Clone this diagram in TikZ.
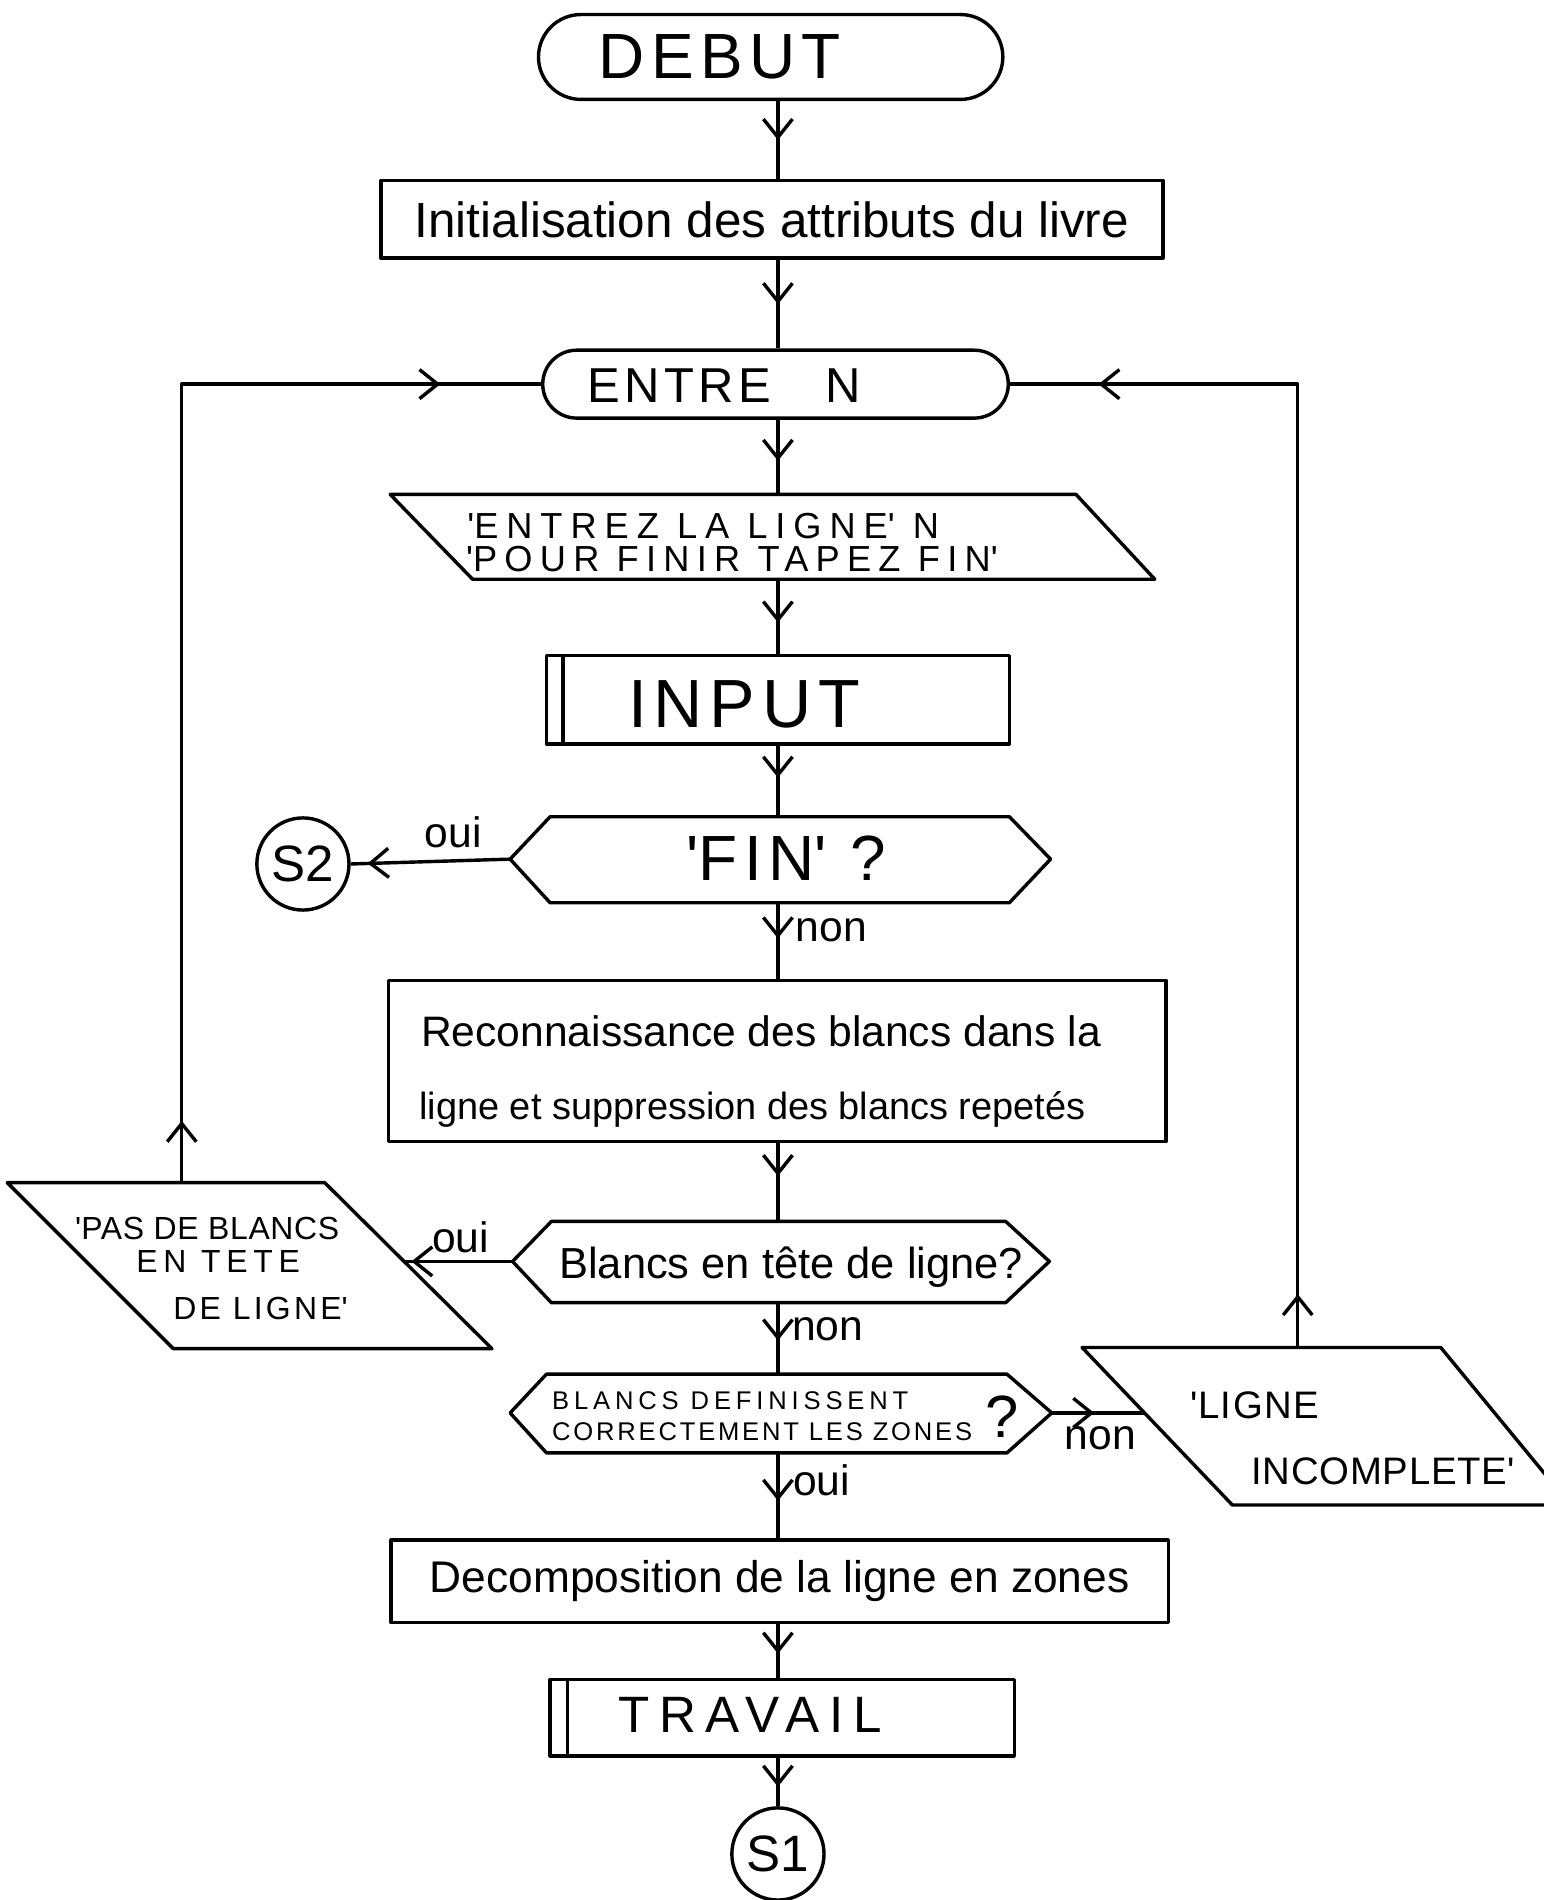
\documentclass[tikz,border=0pt]{standalone}
\usepackage{fontspec}
\setmainfont{Liberation Sans}
\usetikzlibrary{arrows.meta,decorations.markings,shapes.misc}

% size and tracking for lettering: \lsfont{letterspace}{size in pt}
\newcommand{\lsfont}[2]{\fontsize{#2}{#2}\selectfont\addfontfeatures{LetterSpace=#1}}
\newcommand{\tick}{\textquotesingle}

\tikzset{
  >={Straight Barb[length=1.5mm,width=2.4mm]},
  ink/.style={line width=0.8pt, line join=round},
  proc/.style={ink, draw, rectangle, inner sep=0pt},
  term/.style={ink, draw, rounded rectangle, inner sep=0pt},
  conn/.style={ink, draw, circle, inner sep=0pt, minimum size=0.76cm, font=\lsfont{0}{12}},
  txt/.style={inner sep=0pt, anchor=base},
  lbl/.style={inner sep=0pt, anchor=base, font=\lsfont{0}{10}},
  flow/.style={ink},
  tipat/.style={postaction={decorate}, decoration={markings, mark=at position #1 with {\arrow{>}}}},
  twotips/.style 2 args={postaction={decorate}, decoration={markings,
      mark=at position #1 with {\arrow{>}}, mark=at position #2 with {\arrow{>}}}},
}

\begin{document}
\begin{tikzpicture}[x=0.01cm, y=-0.01cm]
\useasboundingbox (0,0) rectangle (1274,1568);
\clip (0,0) rectangle (1274,1568);
\coordinate (col) at (642,0);

% ---- start
\node[term, minimum width=3.83cm, minimum height=0.70cm] (debut) at (636,47) {};
\node[txt, font=\lsfont{10}{15}] (debut-t) at (594,65) {DEBUT};

% ---- initialisation
\node[proc, minimum width=6.45cm, minimum height=0.64cm, font=\lsfont{0}{11.6}] (init) at (637,181)
  {Initialisation des attributs du livre};

% ---- loop entry
\node[term, minimum width=3.84cm, minimum height=0.56cm] (entre) at (640,317) {};
\node[txt, anchor=base west, font=\lsfont{9}{11.5}] (entre-t) at (484,332) {ENTRE\hspace{0.45cm}N};

% ---- prompt (output)
\draw[ink] (322,408) -- (888,408) -- (953,478) -- (390,478) -- cycle;
\coordinate (p1-n) at (642,408);
\coordinate (p1-s) at (642,478);
\node[txt, anchor=base west, font=\lsfont{22}{8.5}] (p1-a) at (385,444) {\tick ENTREZ LA LIGNE\tick\ N};
\node[txt, anchor=base west, font=\lsfont{20}{8.5}] (p1-b) at (384,472) {\tick POUR FINIR TAPEZ FIN\tick};

% ---- input subroutine
\node[proc, minimum width=3.82cm, minimum height=0.73cm] (input) at (642,577.5) {};
\draw[ink] ([xshift=0.15cm]input.north west) -- ([xshift=0.15cm]input.south west);
\node[txt, font=\lsfont{10}{16}] (input-t) at (614,600) {INPUT};

% ---- test 'FIN'
\draw[ink] (454,674) -- (833,674) -- (867,709) -- (833,745) -- (454,745) -- (421,709) -- cycle;
\coordinate (fin-n) at (642,674);
\coordinate (fin-s) at (642,745);
\coordinate (fin-w) at (421,709);
\node[txt, font=\lsfont{10}{15}] (fin-t) at (649,727) {\tick FIN\tick\ ?};

\node[conn] (s2) at (250,713) {S2};

% ---- blank detection
\node[proc, minimum width=6.41cm, minimum height=1.33cm] (recon) at (641.5,875.5) {};
\node[txt, font=\lsfont{0}{10}] (recon-a) at (628,864) {Reconnaissance des blancs dans la};
\node[txt, font=\lsfont{0}{8.9}] (recon-b) at (621,924) {ligne et suppression des blancs repetés};

% ---- leading blanks test
\draw[ink] (455,1008) -- (830,1008) -- (866,1041) -- (830,1075) -- (455,1075) -- (423,1041) -- cycle;
\coordinate (hb-n) at (642,1008);
\coordinate (hb-s) at (642,1075);
\coordinate (hb-w) at (423,1041);
\node[txt, font=\lsfont{0}{10.2}] (hb-t) at (653,1055) {Blancs en tête de ligne?};

% ---- message: leading blanks
\draw[ink] (6,976) -- (268,976) -- (406,1113) -- (143,1113) -- cycle;
\coordinate (pas-n) at (150,976);
\coordinate (pas-e) at (333.5,1041);
\node[txt, font=\lsfont{2}{7.5}] (pas-a) at (171,1023) {\tick PAS DE BLANCS};
\node[txt, font=\lsfont{18}{7.5}] (pas-b) at (180,1050) {EN TETE};
\node[txt, font=\lsfont{10}{7.5}] (pas-c) at (215,1089) {DE LIGNE\tick};

% ---- zones test
\draw[ink] (451,1134) -- (831,1134) -- (868,1166) -- (831,1199) -- (451,1199) -- (421,1166) -- cycle;
\coordinate (hc-n) at (642,1134);
\coordinate (hc-s) at (642,1199);
\coordinate (hc-e) at (868,1166);
\node[txt, anchor=base west, font=\lsfont{19}{6}] (hc-a) at (455,1163) {BLANCS DEFINISSENT};
\node[txt, anchor=base west, font=\lsfont{11}{6}] (hc-b) at (455,1189) {CORRECTEMENT LES ZONES};
\node[txt, font=\lsfont{0}{14}] (hc-q) at (827,1186) {?};

% ---- message: incomplete line
\draw[ink] (893,1112) -- (1189,1112) -- (1296,1242) -- (1017,1242) -- cycle;
\coordinate (lg-w) at (944.5,1166);
\coordinate (lg-n) at (1071,1112);
\node[txt, anchor=base west, font=\lsfont{4}{9}] (lg-a) at (982,1171) {\tick LIGNE};
\node[txt, anchor=base west, font=\lsfont{2}{9}] (lg-b) at (1032,1225) {INCOMPLETE\tick};

% ---- decomposition
\node[proc, minimum width=6.41cm, minimum height=0.68cm, font=\lsfont{0}{10.4}] (decomp) at (643.5,1305)
  {Decomposition de la ligne en zones};

% ---- work subroutine
\node[proc, minimum width=3.83cm, minimum height=0.63cm] (travail) at (645.5,1417.5) {};
\draw[ink] ([xshift=0.16cm]travail.north west) -- ([xshift=0.16cm]travail.south west);
\node[txt, font=\lsfont{19}{12}] (travail-t) at (619,1430) {TRAVAIL};

\node[conn] (s1) at (642,1530) {S1};

% ---- main column connectors
\draw[flow, tipat=0.5]  (debut.south -| col) -- (init.north -| col);
\draw[flow, tipat=0.5]  (init.south -| col) -- (entre.north -| col);
\draw[flow, tipat=0.55] (entre.south -| col) -- (p1-n);
\draw[flow, tipat=0.58] (p1-s) -- (input.north -| col);
\draw[flow, tipat=0.45] (input.south -| col) -- (fin-n);
\draw[flow, tipat=0.47] (fin-s) -- (recon.north -| col);
\draw[flow, tipat=0.42] (recon.south -| col) -- (hb-n);
\draw[flow, tipat=0.53] (hb-s) -- (hc-n);
\draw[flow, tipat=0.56] (hc-s) -- (decomp.north -| col);
\draw[flow, tipat=0.55] (decomp.south -| col) -- (travail.north -| col);
\draw[flow, tipat=0.6]  (travail.south -| col) -- (s1.north);

% ---- branches
\draw[flow, tipat=-0.14cm] (fin-w) -- (s2.east);
\draw[flow, tipat=-0.06cm] (hb-w) -- (pas-e);
\draw[flow, tipat=0.35cm]  (hc-e) -- (lg-w);
\draw[flow, twotips={0.51cm}{-0.83cm}] (pas-n) -- (pas-n |- entre.west) -- (entre.west);
\draw[flow, twotips={0.44cm}{-0.73cm}] (lg-n) -- (lg-n |- entre.east) -- (entre.east);

% ---- branch labels
\node[lbl] (oui-a) at (374,699) {oui};
\node[lbl] (non-a) at (686,777) {non};
\node[lbl] (oui-b) at (380,1034) {oui};
\node[lbl] (non-b) at (683,1106) {non};
\node[lbl] (oui-c) at (678,1234) {oui};
\node[lbl] (non-c) at (908,1196) {non};
\end{tikzpicture}
\end{document}
